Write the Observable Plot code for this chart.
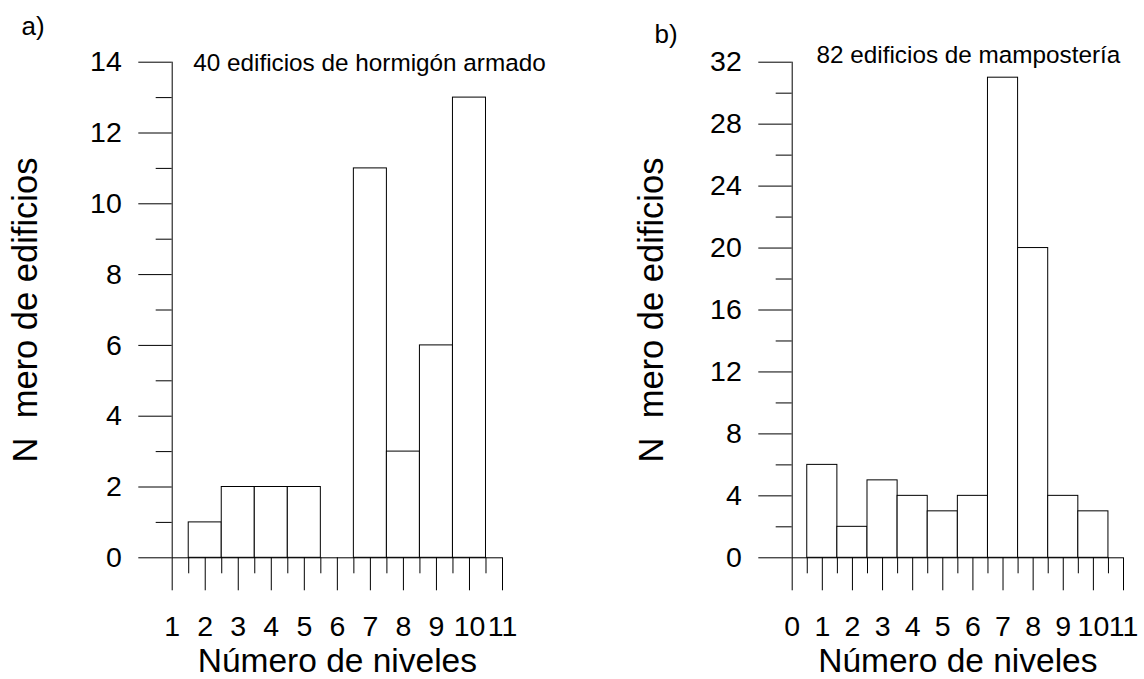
<!DOCTYPE html>
<html>
<head>
<meta charset="utf-8">
<script src="https://cdn.jsdelivr.net/npm/d3@7"></script>
<script src="https://cdn.jsdelivr.net/npm/@observablehq/plot@0.6"></script>
<style>
  html, body { margin: 0; padding: 0; background: #fff; }
  #chart { position: relative; width: 1144px; height: 679px; overflow: hidden; background: #fff; }
  #chart svg { position: absolute; top: 0; }
</style>
</head>
<body>
<div id="chart"></div>
<script>
// ---- data ----
const levelsA = [2, 3, 4, 5, 6, 7, 8, 9, 10];
const countsA = [1, 2, 2, 2, 0, 11, 3, 6, 13];
const levelsB = [1, 2, 3, 4, 5, 6, 7, 8, 9, 10];
const countsB = [6, 2, 5, 4, 3, 4, 31, 20, 4, 3];

const xMajorA = [1, 2, 3, 4, 5, 6, 7, 8, 9, 10, 11];
const xMinorA = [1.5, 2.5, 3.5, 4.5, 5.5, 6.5, 7.5, 8.5, 9.5, 10.5];
const yMajorA = [0, 2, 4, 6, 8, 10, 12, 14];
const yMinorA = [1, 3, 5, 7, 9, 11, 13];

const xMajorB = [0, 1, 2, 3, 4, 5, 6, 7, 8, 9, 10, 11];
const xMinorB = [0.5, 1.5, 2.5, 3.5, 4.5, 5.5, 6.5, 7.5, 8.5, 9.5, 10.5];
const yMajorB = [0, 4, 8, 12, 16, 20, 24, 28, 32];
const yMinorB = [2, 6, 10, 14, 18, 22, 26, 30];

const titleA = "40 edificios de hormigón armado";
const titleB = "82 edificios de mampostería";
const tagA = "a)";
const tagB = "b)";
const xLabel = "Número de niveles";
const yLabel = "N\u00a0\u00a0mero de edificios";

const FONT = "'Liberation Sans', Arial, Helvetica, sans-serif";
const TOP = 61.7, BOTTOM = 557.3, H = 679;
const TICK_FS = 28.5, XLABEL_FS = 33.5, YLABEL_FS = 34.5, TITLE_FS = 24.3, TAG_FS = 26;

function panel(cfg) {
  const data = cfg.levels.map((l, i) => ({x1: l - 0.5, x2: l + 0.5, count: cfg.counts[i]}));
  const xd = [cfg.xMajor[0], cfg.xMajor[cfg.xMajor.length - 1]];
  const yd = [cfg.yMajor[0], cfg.yMajor[cfg.yMajor.length - 1]];
  const svg = Plot.plot({
    width: cfg.width,
    height: H,
    marginLeft: cfg.marginLeft,
    marginRight: cfg.marginRight,
    marginTop: TOP,
    marginBottom: H - BOTTOM,
    style: {fontFamily: FONT, background: "white", color: "black", overflow: "visible"},
    x: {type: "linear", domain: xd, axis: null},
    y: {type: "linear", domain: yd, axis: null},
    marks: [
      Plot.rectY(data, {x1: "x1", x2: "x2", y: "count", fill: "white", stroke: "black", strokeWidth: 1}),
      Plot.ruleY([0], {x1: xd[0], x2: xd[1], stroke: "black"}),
      Plot.ruleX([xd[0]], {y1: yd[0], y2: yd[1], stroke: "black"}),
      Plot.axisY(cfg.yMajor, {anchor: "left", tickSize: 33.4, tickPadding: 17, fontSize: TICK_FS, label: null, stroke: "black", fill: "black"}),
      Plot.axisY(cfg.yMinor, {anchor: "left", tickSize: 16, fill: "none", label: null, stroke: "black"}),
      Plot.axisX(cfg.xMajor, {anchor: "bottom", tickSize: 33, tickPadding: 24.7, fontSize: TICK_FS, label: null, stroke: "black", fill: "black"}),
      Plot.axisX(cfg.xMinor, {anchor: "bottom", tickSize: 16, fill: "none", label: null, stroke: "black"}),
      Plot.text([xLabel], {text: d => d, frameAnchor: "bottom", textAnchor: "middle", lineAnchor: "top", dy: 90.7, fontSize: XLABEL_FS, fill: "black"}),
      Plot.text([yLabel], {text: d => d, frameAnchor: "left", textAnchor: "middle", rotate: -90, lineAnchor: "top", dx: cfg.yLabelDx, fontSize: YLABEL_FS, fill: "black"}),
      Plot.text([cfg.title], {text: d => d, frameAnchor: "top-left", textAnchor: "start", lineAnchor: "top", dx: cfg.titleDx, dy: cfg.titleDy, fontSize: TITLE_FS, fill: "black"}),
      Plot.text([cfg.tag], {text: d => d, frameAnchor: "top-left", textAnchor: "start", lineAnchor: "bottom", dx: cfg.tagDx, dy: cfg.tagDy, fontSize: TAG_FS, fill: "black"})
    ]
  });
  svg.style.left = cfg.left + "px";
  return svg;
}

const chart = document.getElementById("chart");
chart.appendChild(panel({
  levels: levelsA, counts: countsA,
  xMajor: xMajorA, xMinor: xMinorA, yMajor: yMajorA, yMinor: yMinorA,
  title: titleA, tag: tagA,
  left: 0, width: 600, marginLeft: 171.7, marginRight: 98,
  titleDx: 21, titleDy: -8.7, tagDx: -150.7, tagDy: -27.7, yLabelDx: -160
}));
chart.appendChild(panel({
  levels: levelsB, counts: countsB,
  xMajor: xMajorB, xMinor: xMinorB, yMajor: yMajorB, yMinor: yMinorB,
  title: titleB, tag: tagB,
  left: 600, width: 544, marginLeft: 191.7, marginRight: 21,
  titleDx: 24.3, titleDy: -16.7, tagDx: -137.7, tagDy: -19.7, yLabelDx: -153.7
}));
</script>
</body>
</html>
